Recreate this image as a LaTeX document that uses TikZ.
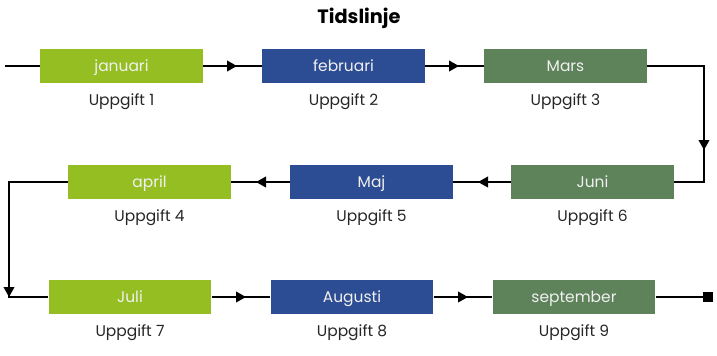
\documentclass[tikz,border=0pt]{standalone}
\usepackage{fontspec}
\setmainfont{Poppins}
\usetikzlibrary{arrows.meta}
\definecolor{cgreen}{HTML}{95BE22}
\definecolor{cblue}{HTML}{2C4C94}
\definecolor{cdark}{HTML}{5E8259}
\begin{document}
\begin{tikzpicture}[x=0.75pt,y=-0.75pt,
  month/.style={rectangle, minimum width=122pt, minimum height=25.5pt, inner sep=0pt,
    text height=8pt, text depth=0pt,
    text=white!94!black, font=\fontsize{11.6}{13}\selectfont},
  lbl/.style={font=\fontsize{11.6}{13}\selectfont, text=black!85, inner sep=0pt,
    text height=8pt, text depth=0pt},
  conn/.style={line width=1.3pt, black},
  tip/.style={conn, -{Triangle[length=7.5pt,width=8pt]}}]
\useasboundingbox (0,0) rectangle (717,355);
\node[font=\bfseries\fontsize{14.5}{16}\selectfont, inner sep=0pt, text height=10pt, text depth=0pt] (title) at (359,17) {Tidslinje};
% row 1
\node[month, fill=cgreen] (jan) at (121.5,66) {januari};
\node[month, fill=cblue]  (feb) at (343.5,66) {februari};
\node[month, fill=cdark]  (mar) at (565.5,66) {Mars};
% row 2
\node[month, fill=cgreen] (apr) at (149.5,182) {april};
\node[month, fill=cblue]  (maj) at (371.5,182) {Maj};
\node[month, fill=cdark]  (jun) at (592.5,182) {Juni};
% row 3
\node[month, fill=cgreen] (jul) at (130,297) {Juli};
\node[month, fill=cblue]  (aug) at (352,297) {Augusti};
\node[month, fill=cdark]  (sep) at (574,297) {september};
% labels
\node[lbl] (l1) at (121.5,100) {Uppgift 1};
\node[lbl] (l2) at (343.5,100) {Uppgift 2};
\node[lbl] (l3) at (565.5,100) {Uppgift 3};
\node[lbl] (l4) at (149.5,216) {Uppgift 4};
\node[lbl] (l5) at (371.5,216) {Uppgift 5};
\node[lbl] (l6) at (592.5,216) {Uppgift 6};
\node[lbl] (l7) at (130,331) {Uppgift 7};
\node[lbl] (l8) at (352,331) {Uppgift 8};
\node[lbl] (l9) at (574,331) {Uppgift 9};
% coordinates
\coordinate (start) at (5,66);
\coordinate (c1) at (704,66);
\coordinate (c1a) at (704,150);
\coordinate (c2) at (704,182);
\coordinate (c3) at (9,182);
\coordinate (c4) at (9,297);
\coordinate (t1) at (237,66);
\coordinate (t2) at (459,66);
\coordinate (t4) at (256,182);
\coordinate (t5) at (478,182);
\coordinate (t7) at (246,297);
\coordinate (t8) at (468,297);
\node[rectangle, fill=black, minimum size=7pt, inner sep=0pt] (endp) at (708,297) {};
% connectors
\draw[conn] (start) -- (jan.west);
\draw[conn] (jan.east) -- (feb.west);
\draw[tip] (jan.east) -- (t1);
\draw[conn] (feb.east) -- (mar.west);
\draw[tip] (feb.east) -- (t2);
\draw[conn] (mar.east) -- (c1) -- (c2) -- (jun.east);
\draw[tip] (c1) -- (c1a);
\draw[conn] (jun.west) -- (maj.east);
\draw[tip] (jun.west) -- (t5);
\draw[conn] (maj.west) -- (apr.east);
\draw[tip] (maj.west) -- (t4);
\draw[conn] (apr.west) -- (c3) -- (c4) -- (jul.west);
\draw[tip] (c3) -- (c4);
\draw[conn] (jul.east) -- (aug.west);
\draw[tip] (jul.east) -- (t7);
\draw[conn] (aug.east) -- (sep.west);
\draw[tip] (aug.east) -- (t8);
\draw[conn] (sep.east) -- (endp.center);
\end{tikzpicture}
\end{document}
